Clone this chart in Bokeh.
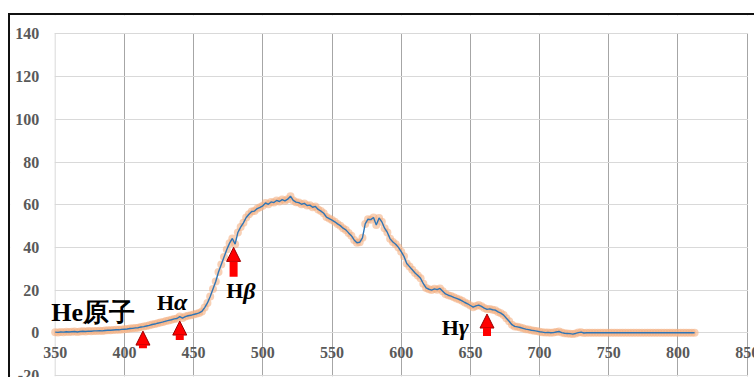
from bokeh.plotting import figure
from bokeh.models import (Range1d, FixedTicker, Label, LabelSet, Arrow, NormalHead,
                          ColumnDataSource, BoxAnnotation, Span)
from bokeh.embed import file_html
from bokeh.resources import INLINE

# ---- data ----
wavelength = list(range(350, 813, 2))
intensity = [
    0.3, 0.2, 0.4, 0.3, 0.5, 0.4, 0.5, 0.6, 0.4, 0.6,
    0.7, 0.6, 0.8, 0.7, 0.9, 0.9, 1.0, 0.9, 1.1, 1.2,
    1.2, 1.3, 1.4, 1.4, 1.6, 1.7, 1.8, 2.0, 2.1, 2.3,
    2.4, 2.7, 2.9, 3.2, 3.5, 3.9, 4.1, 4.5, 4.8, 5.1,
    5.5, 5.8, 6.1, 6.5, 6.7, 7.6, 6.9, 7.6, 8.0, 8.2,
    8.6, 8.9, 9.3, 10.0, 11.8, 14.0, 17.0, 20.5, 24.0, 28.5,
    32.0, 35.5, 39.0, 42.0, 44.2, 41.5, 47.0, 49.5, 51.5, 54.0,
    55.5, 56.8, 57.0, 58.2, 58.8, 59.5, 60.8, 60.2, 61.3, 61.0,
    62.0, 61.5, 62.4, 61.8, 62.6, 64.0, 62.0, 61.2, 61.0, 60.2,
    60.6, 59.6, 59.8, 58.8, 59.2, 57.8, 57.0, 56.0, 54.2, 53.5,
    52.8, 52.0, 51.0, 50.2, 49.0, 48.2, 46.8, 45.5, 43.5, 42.2,
    42.4, 44.5, 51.0, 53.2, 53.0, 54.0, 50.5, 53.8, 52.0, 49.0,
    47.0, 44.0, 42.5, 41.5, 40.0, 38.0, 35.8, 32.5, 31.0, 29.5,
    28.0, 26.8, 25.5, 23.0, 21.0, 20.4, 20.0, 20.6, 20.2, 20.8,
    19.5, 18.2, 17.6, 17.2, 16.6, 16.1, 15.6, 15.0, 14.2, 13.6,
    12.8, 12.0, 12.6, 13.0, 12.4, 11.6, 11.0, 11.2, 10.8, 10.6,
    9.8, 9.2, 8.3, 6.8, 5.4, 3.8, 3.0, 2.8, 2.5, 2.1,
    1.7, 1.5, 1.2, 1.0, 0.8, 0.5, 0.3, 0.1, 0.2, 0.0,
    0.1, 0.4, 0.6, 0.1, -0.2, -0.3, -0.4, -0.6, -0.3, 0.1,
    0.3, -0.1, 0.0,
    0.0, 0.0, 0.0, 0.0, 0.0, 0.0, 0.0, 0.0, 0.0, 0.0,
    0.0, 0.0, 0.0, 0.0, 0.0, 0.0, 0.0, 0.0, 0.0, 0.0,
    0.0, 0.0, 0.0, 0.0, 0.0, 0.0, 0.0, 0.0, 0.0, 0.0,
    0.0, 0.0, 0.0, 0.0, 0.0, 0.0, 0.0, 0.0, 0.0,
]
x_min, x_max = 350, 850
y_min, y_max = -20, 140
x_ticks = [350, 400, 450, 500, 550, 600, 650, 700, 750, 800, 850]
x_tick_labels = ["350", "400", "450", "500", "550", "600", "650", "700", "750", "800", "850"]
y_ticks = [-20, 0, 20, 40, 60, 80, 100, 120, 140]
y_tick_labels = ["-20", "0", "20", "40", "60", "80", "100", "120", "140"]

# annotation arrows (wavelength, tip value, tail value)
arrow_x = [413.4, 440.0, 478.9, 662.0]
arrow_tip = [0.8, 5.5, 40.0, 8.8]
arrow_tail = [-7.2, -3.4, 26.2, -1.5]

# labels: main text + Greek suffix
label_main = ["He原子", "H", "H", "H"]
label_greek = ["", "α", "β", "γ"]
label_size = ["26px", "22px", "22px", "22px"]
label_x = [347.1, 423.6, 473.6, 629.3]
label_y = [9.6, 14.3, 19.8, 2.6]

assert len(wavelength) == len(intensity)

# ---- figure ----
p = figure(width=746, height=364, output_backend="svg", toolbar_location=None,
           x_range=Range1d(317.70, 856.72), y_range=Range1d(-21.87, 148.62),
           min_border_left=0, min_border_right=0, min_border_top=0, min_border_bottom=0)
p.margin = (13, 0, 0, 8)
p.styles = {"border-top": "2px solid #111111", "border-left": "2px solid #111111"}
p.outline_line_color = None
p.background_fill_color = "white"
p.border_fill_color = "white"
p.xaxis.visible = False
p.yaxis.visible = False

# grids
p.xgrid.ticker = FixedTicker(ticks=x_ticks[1:])
p.xgrid.grid_line_color = "#A6A6A6"
p.xgrid.grid_line_width = 1
p.ygrid.ticker = FixedTicker(ticks=y_ticks)
p.ygrid.grid_line_color = "#D9D9D9"
p.ygrid.grid_line_width = 1

# keep the gridded plot area to 350..850 x -20..140
p.add_layout(BoxAnnotation(right=x_min - 0.3, fill_color="white", fill_alpha=1.0,
                           line_color=None, level="underlay"))
p.add_layout(BoxAnnotation(left=x_max + 0.6, fill_color="white", fill_alpha=1.0,
                           line_color=None, level="underlay"))
p.add_layout(Span(location=x_min, dimension="height", line_color="#D9D9D9",
                  line_width=1, level="underlay"))
p.add_layout(BoxAnnotation(bottom=y_max + 0.4, fill_color="white", fill_alpha=1.0,
                           line_color=None, level="underlay"))
p.add_layout(BoxAnnotation(top=y_min - 0.4, fill_color="white", fill_alpha=1.0,
                           line_color=None, level="underlay"))

tick_style = dict(text_font="Noto Sans", text_font_style="bold",
                  text_font_size="16px", text_color="#595959", text_baseline="middle")

# y tick labels, left of the value axis
yt_src = ColumnDataSource(dict(x=[x_min] * len(y_ticks), y=y_ticks, t=y_tick_labels))
p.add_layout(LabelSet(x="x", y="y", text="t", source=yt_src, x_offset=-16,
                      text_align="right", **tick_style))

# x tick labels sit just under the zero line (axis crosses at 0)
xt_src = ColumnDataSource(dict(x=x_ticks, y=[0] * len(x_ticks), t=x_tick_labels))
p.add_layout(LabelSet(x="x", y="y", text="t", source=xt_src, y_offset=-20,
                      text_align="center", **tick_style))

src = ColumnDataSource(dict(x=wavelength, y=intensity))
p.scatter("x", "y", source=src, size=8, fill_color="#F4B183", fill_alpha=0.6,
          line_color=None)
p.line("x", "y", source=src, line_color="#2E75B6", line_width=1.4)

arr_src = ColumnDataSource(dict(x=arrow_x, tip=arrow_tip, tail=arrow_tail))
p.add_layout(Arrow(end=NormalHead(size=14, fill_color="#FF0000", line_color="#9B0000", line_width=1),
                   x_start="x", y_start="tail", x_end="x", y_end="tip",
                   line_color="#FF0000", line_width=8, source=arr_src))

for main, greek, fs, lx, ly in zip(label_main, label_greek, label_size, label_x, label_y):
    p.add_layout(Label(x=lx, y=ly, text=main, text_font="Liberation Serif",
                       text_font_style="bold", text_font_size=fs, text_color="#000000",
                       text_align="left", text_baseline="alphabetic"))
    if greek:
        p.add_layout(Label(x=lx, y=ly, x_offset=17, text=greek, text_font="Liberation Serif",
                           text_font_style="bold italic", text_font_size="24px",
                           text_color="#000000", text_align="left",
                           text_baseline="alphabetic"))

open("out.html", "w").write(file_html(p, INLINE))
